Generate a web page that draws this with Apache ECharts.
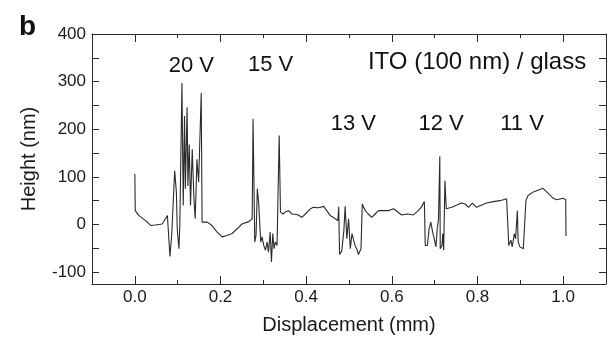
<!DOCTYPE html>
<html>
<head>
<meta charset="utf-8">
<script src="https://cdn.jsdelivr.net/npm/echarts@6/dist/echarts.min.js"></script>
<style>
html,body{margin:0;padding:0;background:#fff;}
#c{width:609px;height:340px;}
</style>
</head>
<body>
<div id="c"></div>
<script>
// Displacement (mm) along the scan
var displacement = [0.000,0.001,0.009,0.025,0.037,0.048,0.064,0.076,0.078,0.082,0.086,0.093,0.097,0.099,0.103,0.105,0.110,0.113,0.116,0.118,0.122,0.124,0.127,0.130,0.134,0.138,0.141,0.145,0.149,0.155,0.157,0.161,0.169,0.180,0.192,0.204,0.215,0.227,0.239,0.250,0.266,0.274,0.276,0.280,0.283,0.286,0.289,0.291,0.294,0.297,0.301,0.305,0.309,0.312,0.316,0.319,0.322,0.325,0.328,0.332,0.334,0.337,0.340,0.344,0.346,0.351,0.359,0.367,0.379,0.390,0.398,0.410,0.417,0.429,0.441,0.448,0.456,0.468,0.474,0.476,0.478,0.483,0.488,0.491,0.495,0.499,0.503,0.507,0.510,0.514,0.518,0.522,0.528,0.531,0.538,0.545,0.553,0.561,0.569,0.580,0.592,0.604,0.623,0.635,0.650,0.662,0.670,0.676,0.678,0.683,0.687,0.691,0.695,0.699,0.703,0.706,0.709,0.712,0.713,0.717,0.719,0.721,0.724,0.727,0.740,0.752,0.763,0.771,0.779,0.788,0.798,0.810,0.821,0.837,0.852,0.868,0.872,0.873,0.878,0.881,0.886,0.889,0.893,0.895,0.899,0.903,0.907,0.911,0.913,0.918,0.930,0.938,0.953,0.961,0.977,0.985,1.000,1.006,1.0065];
// Height (nm)
var heightNm = [106,29,19,8,-2,-1,1,19,22,-67,-23,113,68,-9,-51,-2,297,40,228,75,246,81,168,40,158,54,12,137,89,276,5,1,5,-2,-16,-26,-23,-19,-9,1,6,12,222,-37,-23,75,47,12,-37,-26,-44,-54,-37,-58,-16,-79,-19,-51,-37,-44,47,187,26,29,22,26,29,22,21,15,22,33,36,35,38,29,19,12,8,37,-63,-56,-13,38,-30,12,-51,-19,-23,-44,-51,-63,-51,43,29,22,15,22,29,29,29,33,20,22,20,29,38,48,-44,-44,-9,5,-15,-30,-47,-9,12,143,-51,-44,-19,-54,92,33,36,41,45,43,36,45,36,41,45,48,50,54,52,-44,-33,-47,-19,-30,29,-37,-47,-44,-51,-51,50,61,68,71,76,69,55,52,55,52,-24];

var xMajorTicks = [0.0,0.2,0.4,0.6,0.8,1.0];
var xMinorTicks = [0.1,0.3,0.5,0.7,0.9];
var yTicks = [-100,-50,0,50,100,150,200,250,300,350,400];
var yLabels = [-100,0,100,200,300,400];

var annotationTexts = ['20 V','15 V','ITO (100 nm) / glass','13 V','12 V','11 V'];
var annotationX = [0.132,0.317,0.799,0.510,0.715,0.904];
var annotationY = [332,334,340,212,212,212];

var FONT = '"Liberation Sans", Arial, Helvetica, sans-serif';
var AXIS_COLOR = '#2a2a2a';

var points = displacement.map(function(d,i){ return [d, heightNm[i]]; });

function xAxisDef(pos, ticks, len, showLine, showLabel, extra){
  var a = {
    type:'value', position: pos, min:-0.1, max:1.1,
    axisLine:{show:showLine, onZero:false, lineStyle:{color:AXIS_COLOR, width:1}},
    axisTick:{show:true, inside:true, length:len, customValues:ticks, lineStyle:{color:AXIS_COLOR, width:1}},
    axisLabel:{show:showLabel, customValues:ticks, margin:5, color:'#1a1a1a', fontSize:17, fontFamily:FONT,
      formatter:function(v){ return v.toFixed(1); }},
    splitLine:{show:false}
  };
  if (extra) for (var k in extra) a[k]=extra[k];
  return a;
}
function yAxisDef(pos, showLabel, extra){
  var a = {
    type:'value', position: pos, min:-125, max:400,
    axisLine:{show:true, onZero:false, lineStyle:{color:AXIS_COLOR, width:1}},
    axisTick:{show:true, inside:true, length:7, customValues:yTicks, lineStyle:{color:AXIS_COLOR, width:1}},
    axisLabel:{show:showLabel, customValues:yLabels, margin:6, color:'#1a1a1a', fontSize:17, fontFamily:FONT},
    splitLine:{show:false}
  };
  if (extra) for (var k in extra) a[k]=extra[k];
  return a;
}

var chart = echarts.init(document.getElementById('c'), null, {renderer:'canvas'});
chart.setOption({
  animation:false,
  backgroundColor:'#ffffff',
  title:{text:'b', left:14, top:8, textStyle:{fontSize:28, fontWeight:'bold', color:'#111', fontFamily:FONT}},
  grid:{left:92, right:3, top:34, bottom:55},
  xAxis:[
    xAxisDef('bottom', xMajorTicks, 8, true, true, {
      name:'Displacement (mm)', nameLocation:'middle', nameGap:31,
      nameTextStyle:{fontSize:20, color:'#1a1a1a', fontFamily:FONT}
    }),
    xAxisDef('bottom', xMinorTicks, 4, false, false),
    xAxisDef('top', xMajorTicks, 8, true, false),
    xAxisDef('top', xMinorTicks, 4, false, false)
  ],
  yAxis:[
    yAxisDef('left', true, {
      name:'Height (nm)', nameLocation:'middle', nameGap:53,
      nameTextStyle:{fontSize:20, color:'#1a1a1a', fontFamily:FONT}
    }),
    yAxisDef('right', false)
  ],
  series:[{
    type:'line', xAxisIndex:0, yAxisIndex:0,
    data:points, showSymbol:false, symbol:'none',
    lineStyle:{color:'#2b2b2b', width:1.1},
    markPoint:{
      symbol:'circle', symbolSize:1,
      itemStyle:{color:'rgba(0,0,0,0)'},
      label:{show:true, position:'inside', color:'#111', fontFamily:FONT, fontSize:22,
        formatter:function(p){ return p.name; }},
      data: annotationTexts.map(function(t,i){
        return {name:t, coord:[annotationX[i], annotationY[i]],
          label: i===2 ? {fontSize:24} : undefined};
      })
    }
  }]
});
</script>
</body>
</html>
